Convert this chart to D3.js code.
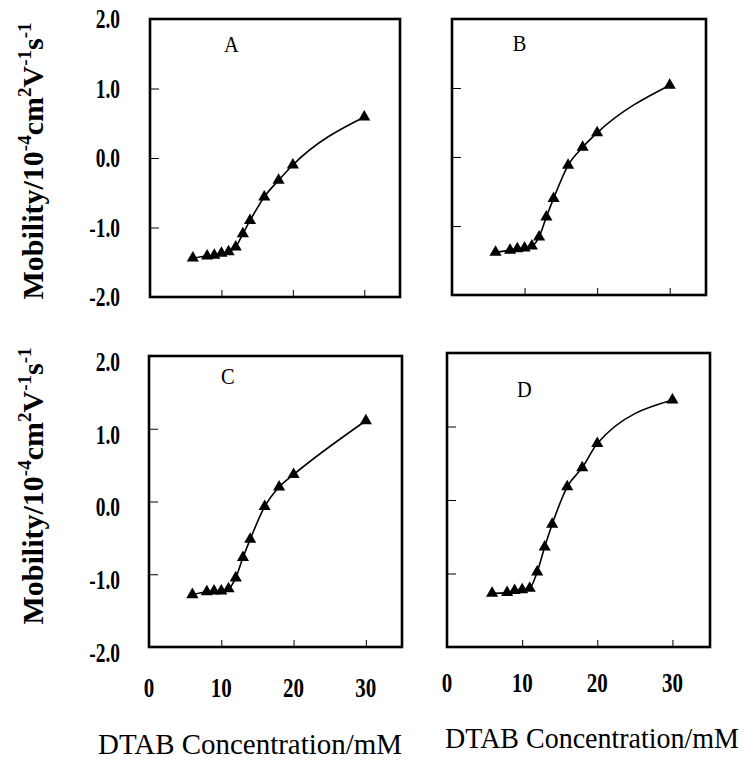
<!DOCTYPE html>
<html>
<head>
<meta charset="utf-8">
<script src="https://cdn.jsdelivr.net/npm/d3@7"></script>
<style>
  body { margin: 0; background: #fff; }
  svg text { font-family: "Liberation Serif", "DejaVu Serif", serif; }
</style>
</head>
<body>
<svg width="746" height="761"></svg>
<script>
// DTAB concentration (mM), same for every panel
var conc = [6, 8, 9, 10, 11, 12, 13, 14, 16, 18, 20, 30];

// mobility values
var mobA = [-1.44, -1.41, -1.40, -1.37, -1.35, -1.28, -1.09, -0.90, -0.56, -0.32, -0.10, 0.59];
var mobB = [-1.38, -1.35, -1.33, -1.32, -1.29, -1.16, -0.87, -0.60, -0.12, 0.14, 0.35, 1.04];
var mobC = [-1.28, -1.24, -1.23, -1.23, -1.20, -1.05, -0.77, -0.52, -0.07, 0.20, 0.37, 1.11];
var mobD = [-1.27, -1.26, -1.23, -1.22, -1.20, -0.98, -0.64, -0.33, 0.18, 0.44, 0.77, 1.36];

var panelNames = ["A", "B", "C", "D"];
var xTicks = [0, 10, 20, 30];
var yTicks = [2.0, 1.0, 0.0, -1.0, -2.0];
var xTitle = "DTAB Concentration/mM";

var serif = "Liberation Serif";
var svg = d3.select("svg");

// frame of each panel in the page
var panels = [
  {name: panelNames[0], vals: mobA, left: 150, top: 19,  right: 400, bottom: 297, lab: [11.4, 1.52]},
  {name: panelNames[1], vals: mobB, left: 452, top: 19,  right: 706, bottom: 295, lab: [9.3, 1.53]},
  {name: panelNames[2], vals: mobC, left: 149, top: 356, right: 402, bottom: 647, lab: [10.9, 1.62]},
  {name: panelNames[3], vals: mobD, left: 447, top: 353, right: 710, bottom: 647, lab: [10.3, 1.40]}
];

// squeeze text sideways like the scanned figure
function condense(sel, f) {
  sel.each(function() {
    var w = this.getComputedTextLength();
    d3.select(this).attr("textLength", w * f).attr("lengthAdjust", "spacingAndGlyphs");
  });
}

panels.forEach(function(p, pi) {
  var x = d3.scaleLinear().domain([0, 35]).range([p.left, p.right]);
  var y = d3.scaleLinear().domain([-2, 2]).range([p.bottom, p.top]);
  var g = svg.append("g");

  // inner ticks
  g.append("g")
      .attr("transform", "translate(0," + p.bottom + ")")
      .call(d3.axisTop(x).tickValues([10, 20, 30]).tickSize(7).tickFormat(""))
      .call(function(a) { a.select(".domain").remove(); a.selectAll("line").attr("stroke-width", 1); });
  g.append("g")
      .attr("transform", "translate(" + p.left + ",0)")
      .call(d3.axisRight(y).tickValues([1, 0, -1]).tickSize(9).tickFormat(""))
      .call(function(a) { a.select(".domain").remove(); a.selectAll("line").attr("stroke-width", 1); });

  // frame
  g.append("rect")
      .attr("x", p.left).attr("y", p.top)
      .attr("width", p.right - p.left).attr("height", p.bottom - p.top)
      .attr("fill", "none").attr("stroke", "#000").attr("stroke-width", 2.6);

  var pts = conc.map(function(c, i) { return [c, p.vals[i]]; });

  var line = d3.line()
      .curve(d3.curveMonotoneX)
      .x(function(d) { return x(d[0]); })
      .y(function(d) { return y(d[1]); });

  g.append("path")
      .datum(pts)
      .attr("d", line)
      .attr("fill", "none")
      .attr("stroke", "#000")
      .attr("stroke-width", 1.6);

  g.selectAll(".pt")
      .data(pts)
    .enter().append("path")
      .attr("class", "pt")
      .attr("transform", function(d) { return "translate(" + x(d[0]) + "," + y(d[1]) + ")"; })
      .attr("d", d3.symbol(d3.symbolTriangle, 64))
      .attr("fill", "#000");

  // panel letter
  g.append("text")
      .attr("x", x(p.lab[0])).attr("y", y(p.lab[1]))
      .attr("text-anchor", "middle")
      .attr("font-family", serif)
      .attr("font-size", 24)
      .text(p.name)
      .call(condense, 0.85);

  // y tick labels on the left column
  if (pi % 2 === 0) {
    g.selectAll(".ylab")
        .data(yTicks)
      .enter().append("text")
        .attr("class", "ylab")
        .attr("x", 120)
        .attr("y", function(d) { return y(d); })
        .attr("dy", pi === 0 ? "0.35em" : "0.55em")
        .attr("text-anchor", "end")
        .attr("font-family", serif)
        .attr("font-size", 27)
        .attr("font-weight", "bold")
        .text(function(d) { return d3.format(".1f")(d).replace("−", "-"); })
        .call(condense, 0.72);

    // y title
    var t = svg.append("text")
        .attr("transform", "translate(43," + (pi === 0 ? 161 : 486) + ") rotate(-90)")
        .attr("text-anchor", "middle")
        .attr("font-family", serif)
        .attr("font-size", 30)
        .attr("font-weight", "bold");
    t.append("tspan").text("Mobility/10");
    t.append("tspan").attr("dy", -12).attr("font-size", 19).text("-4");
    t.append("tspan").attr("dy", 12).text("cm");
    t.append("tspan").attr("dy", -12).attr("font-size", 19).text("2");
    t.append("tspan").attr("dy", 12).text("V");
    t.append("tspan").attr("dy", -12).attr("font-size", 19).text("-1");
    t.append("tspan").attr("dy", 12).text("s");
    t.append("tspan").attr("dy", -12).attr("font-size", 19).text("-1");
  }

  // x tick labels and title on the bottom row
  if (pi >= 2) {
    g.selectAll(".xlab")
        .data(xTicks)
      .enter().append("text")
        .attr("class", "xlab")
        .attr("x", function(d) { return x(d); })
        .attr("y", pi === 2 ? 697 : 692)
        .attr("text-anchor", "middle")
        .attr("font-family", serif)
        .attr("font-size", 28)
        .attr("font-weight", "bold")
        .text(function(d) { return d; })
        .call(condense, 0.75);

    // title squeezed with a transform so its box stays inside the page
    var want = pi === 2 ? 304 : 294;
    var xt = svg.append("g")
        .attr("transform", "translate(" + (pi === 2 ? 250 : 592) + "," + (pi === 2 ? 754 : 748) + ")");
    var tt = xt.append("text")
        .attr("text-anchor", "middle")
        .attr("font-family", serif)
        .attr("font-size", 30)
        .text(xTitle);
    var natural = tt.node().getComputedTextLength();
    tt.attr("transform", "scale(" + (want / natural) + ",1)");
  }
});
</script>
</body>
</html>
